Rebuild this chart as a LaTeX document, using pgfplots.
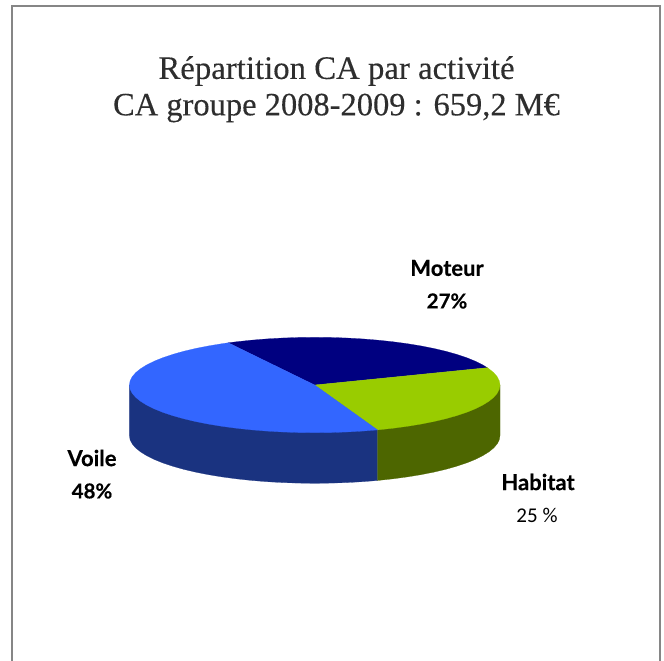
\documentclass[border=0pt]{standalone}
\usepackage{pgfplots}
\pgfplotsset{compat=1.18}
\usepackage{fontspec}
\setmainfont[FakeBold=0.25]{Liberation Serif}
\newfontfamily\lab{Carlito}
\newfontfamily\labb[BoldFeatures={FakeBold=0.4}]{Lato}
\definecolor{navyc}{HTML}{000080}
\definecolor{greenc}{HTML}{99CC00}
\definecolor{bluec}{HTML}{3366FF}
\definecolor{sblue}{HTML}{1A3380}
\definecolor{sgreen}{HTML}{4D6600}
\definecolor{framec}{HTML}{868686}
\definecolor{titlec}{HTML}{2E2E2E}
\begin{document}
\begin{tikzpicture}
\path[use as bounding box] (0,0) rectangle (664pt,661pt);
\begin{axis}[at={(0,0)},anchor=south west,scale only axis,width=664pt,height=661pt,
  xmin=0,xmax=664,ymin=0,ymax=661,y dir=reverse,hide axis,clip=true]
% frame
\addplot[draw=framec,line width=2pt,mark=none] coordinates {(12,661) (12,6.5) (660,6.5) (660,661)};
% side of Voile
\addplot[fill=sblue,draw=sblue,line width=0.2pt,mark=none] coordinates {(129.4,385) (129.4,435.6) (130.1,439.76) (132.2,443.88) (135.7,447.95) (140.6,451.91) (146.8,455.76) (154.2,459.45) (162.9,462.96) (172.8,466.26) (183.7,469.33) (195.6,472.14) (208.4,474.67) (222.05,476.91) (236.4,478.83) (251.3,480.42) (266.7,481.68) (282.5,482.58) (298.5,483.12) (314.7,483.3) (330.9,483.12) (346.9,482.58) (362.7,481.68) (377.5,480.5) (377.5,385)} -- cycle;
% side of Habitat
\addplot[fill=sgreen,draw=sgreen,line width=0.2pt,mark=none] coordinates {(377.5,385) (377.5,480.5) (393.0,478.83) (407.35,476.91) (421.0,474.67) (433.8,472.14) (445.7,469.33) (456.6,466.26) (466.5,462.96) (475.2,459.45) (482.6,455.76) (488.8,451.91) (493.7,447.95) (497.2,443.88) (499.3,439.76) (500,435.6) (500,385)} -- cycle;
% top: Moteur
\addplot[fill=navyc,draw=navyc,line width=0.2pt,mark=none] coordinates {(314.7,385) (487.3,367.7) (482.6,364.84) (475.2,361.15) (466.5,357.64) (456.6,354.34) (445.7,351.27) (433.8,348.46) (421.0,345.93) (407.35,343.69) (393.0,341.77) (378.1,340.18) (362.7,338.92) (346.9,338.02) (330.9,337.48) (314.7,337.3) (298.5,337.48) (282.5,338.02) (266.7,338.92) (251.3,340.18) (236.4,341.77) (228.3,342.8)} -- cycle;
% top: Habitat
\addplot[fill=greenc,draw=greenc,line width=0.2pt,mark=none] coordinates {(314.7,385) (377.5,429.9) (393.0,428.23) (407.35,426.31) (421.0,424.07) (433.8,421.54) (445.7,418.73) (456.6,415.66) (466.5,412.36) (475.2,408.85) (482.6,405.16) (488.8,401.31) (493.7,397.35) (497.2,393.28) (499.3,389.16) (500,385) (499.3,380.84) (497.2,376.72) (493.7,372.65) (488.8,368.69) (487.3,367.7)} -- cycle;
% top: Voile
\addplot[fill=bluec,draw=bluec,line width=0.2pt,mark=none] coordinates {(314.7,385) (228.3,342.8) (222.05,343.69) (208.4,345.93) (195.6,348.46) (183.7,351.27) (172.8,354.34) (162.9,357.64) (154.2,361.15) (146.8,364.84) (140.6,368.69) (135.7,372.65) (132.2,376.72) (130.1,380.84) (129.4,385) (130.1,389.16) (132.2,393.28) (135.7,397.35) (140.6,401.31) (146.8,405.16) (154.2,408.85) (162.9,412.36) (172.8,415.66) (183.7,418.73) (195.6,421.54) (208.4,424.07) (222.05,426.31) (236.4,428.23) (251.3,429.82) (266.7,431.08) (282.5,431.98) (298.5,432.52) (314.7,432.7) (330.9,432.52) (346.9,431.98) (362.7,431.08) (377.5,429.9)} -- cycle;
\node[text=titlec,font=\fontsize{32.8}{38}\selectfont] at (axis cs:336.5,71) {Répartition CA par activité};
\node[text=titlec,font=\fontsize{32.5}{38}\selectfont] at (axis cs:336.5,108) {CA groupe 2008-2009 : 659,2 M€};
\node[font=\labb\bfseries\fontsize{22}{24}\selectfont] at (axis cs:447,268) {Moteur};
\node[font=\labb\bfseries\fontsize{20.5}{24}\selectfont] at (axis cs:447,301) {27\%};
\node[font=\labb\bfseries\fontsize{22}{24}\selectfont] at (axis cs:92,458) {Voile};
\node[font=\labb\bfseries\fontsize{20.5}{24}\selectfont] at (axis cs:92,491) {48\%};
\node[font=\labb\bfseries\fontsize{22}{24}\selectfont] at (axis cs:538,482) {Habitat};
\node[font=\lab\fontsize{21}{24}\selectfont] at (axis cs:537,515) {25 \%};
\end{axis}
\end{tikzpicture}
\end{document}
